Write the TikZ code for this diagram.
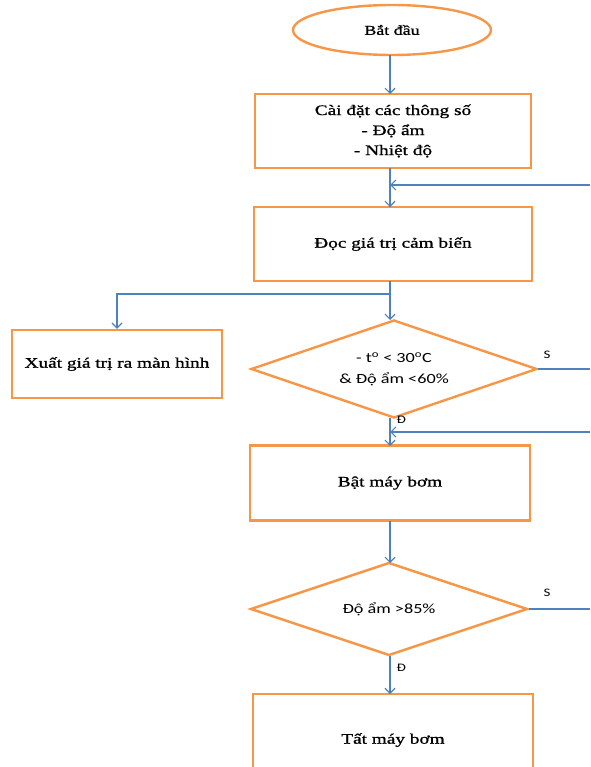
\documentclass[tikz,border=0pt]{standalone}
\usepackage{fontspec}
\setmainfont{Liberation Serif}[FakeStretch=1.33,FakeBold=1]
\newfontfamily\diafont{Carlito}[FakeStretch=1.3]
\usetikzlibrary{shapes.geometric,arrows.meta}
\definecolor{boxorange}{RGB}{247,150,70}
\definecolor{lineblue}{RGB}{79,129,189}

\begin{document}
\begin{tikzpicture}[x=1pt,y=-1pt,>={Straight Barb[length=5pt,width=10pt]}]
\useasboundingbox (0,0) rectangle (590,767);
\clip (0,0) rectangle (590,767);
		\begin{scope}[every node/.style={draw=boxorange,line width=2.4pt,fill=white,align=center,inner sep=0pt,font=\fontsize{14.5}{20}\selectfont}]
			\node[ellipse,minimum width=198,minimum height=50,font=\fontsize{13.5}{16}\selectfont] (start) at (392,30) {Bắt đầu};
			\node[minimum width=276,minimum height=74] (setup) at (393,131) {Cài đặt các thông số\\- Độ ẩm\\- Nhiệt độ};
			\node[minimum width=278,minimum height=74] (read) at (393,244) {Đọc giá trị cảm biến};
			\node[minimum width=210,minimum height=68] (show) at (117,364) {Xuất giá trị ra màn hình};
			\node[diamond,aspect=2.9,minimum width=286,minimum height=98,font=\diafont\fontsize{14}{21}\selectfont] (cond1) at (394,369) {- t\textsuperscript{o} < 30\textsuperscript{o}C\\\& Độ ẩm <60\%};
			\node[minimum width=280,minimum height=75] (pump) at (390,483) {Bật máy bơm};
			\node[diamond,aspect=3,minimum width=277,minimum height=93,font=\diafont\fontsize{14}{17}\selectfont] (cond2) at (389,609) {Độ ẩm >85\%};
			\node[minimum width=280,minimum height=92] (off) at (393,740) {Tất máy bơm};
		\end{scope}

\coordinate (back1) at (590,185);
\coordinate (back2) at (590,432);
\coordinate (split) at (390,294);

\begin{scope}[draw=lineblue,line width=1.2pt,every node/.style={font=\diafont\fontsize{11.5}{13}\selectfont,inner sep=2pt}]
\draw [->] (390,55) -- (390,94);
\draw (390,168) -- (390,207);
\draw [->] (back1) -- (390,185);
\draw [->] (390,185) -- (390,207);
\draw (390,281) -- (split);
\draw [->] (split) -- (390,320);
\draw [->] (split) -| (show.north);
\draw (cond1.east) -- (cond1.east -| back1) node [pos=0.17,above=8pt]{S};
\draw [->] (390,418) -- (390,446) node [pos=0.05,right=4pt]{Đ};
\draw [->] (back2) -- (390,432);
\draw [->] (390,521) -- (390,563);
\draw (cond2.east) -- (cond2.east -| back2) node [pos=0.3,above=10pt]{S};
\draw [->] (390,656) -- (390,694) node [pos=0.3,right=4pt]{Đ};
\end{scope}
	\end{tikzpicture}
\end{document}
